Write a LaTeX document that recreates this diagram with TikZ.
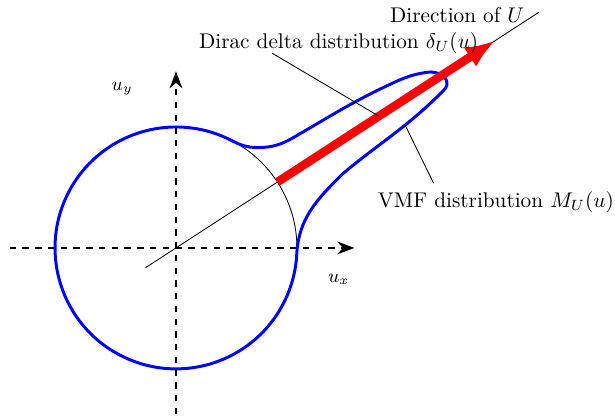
\documentclass[tikz,border=0pt]{standalone}
\usetikzlibrary{arrows.meta}
\begin{document}
\begin{tikzpicture}[
    axis/.style={thick, dashed, -{Stealth[length=8pt,width=6pt]}},
    vmf/.style={draw=blue, line width=1.4pt},
    dirac/.style={draw=red, line width=4pt, -{Latex[length=5mm,width=3.8mm]}},
    pointer/.style={draw=black},
    axlabel/.style={font=\small}
]
\useasboundingbox (-2.91,-2.83) rectangle (7.26,4.10);

% Axes
\draw[axis] (-2.75,0) -- (2.95,0);
\draw[axis] (0,-2.75) -- (0,2.92);
\node[axlabel] (ux) at (2.69,-0.52) {$u_x$};
\node[axlabel] (uy) at (-0.89,2.64) {$u_y$};

% Unit circle and direction of U
\draw (0,0) circle (2);
\coordinate (tail) at (213:0.6);
\coordinate (head) at (33:7.15);
\draw (tail) -- (head);

% VMF distribution
\draw[vmf] (63:2) arc[start angle=63, end angle=357, radius=2]
    to[out=87, in=225] (2.75,1.22)
    to[out=40, in=225] (4.38,2.56)
    to[out=45, in=-80] (4.48,2.74)
    to[out=100, in=-5] (4.22,2.91)
    to[out=185, in=25] (3.55,2.71)
    to[out=205, in=30] (1.95,1.83)
    to[out=210, in=0] (1.35,1.66)
    to[out=180, in=-27] (63:2);

% Dirac delta
\coordinate (start) at (33:2);
\coordinate (tip) at (33:6.3);
\draw[dirac] (start) -- (tip);

% Labels
\node (dir) at (4.65,3.85) {Direction of $U$};
\node (dirac) at (2.69,3.39) {Dirac delta distribution $\delta_U(u)$};
\node (vmf) at (5.29,0.76) {VMF distribution $M_U(u)$};

\coordinate (d1) at (1.59,3.22);
\coordinate (d2) at (33:4.0);
\draw[pointer] (d1) -- (d2);
\coordinate (v1) at (3.79,2.03);
\coordinate (v2) at (4.26,1.07);
\draw[pointer] (v1) -- (v2);

\end{tikzpicture}
\end{document}
